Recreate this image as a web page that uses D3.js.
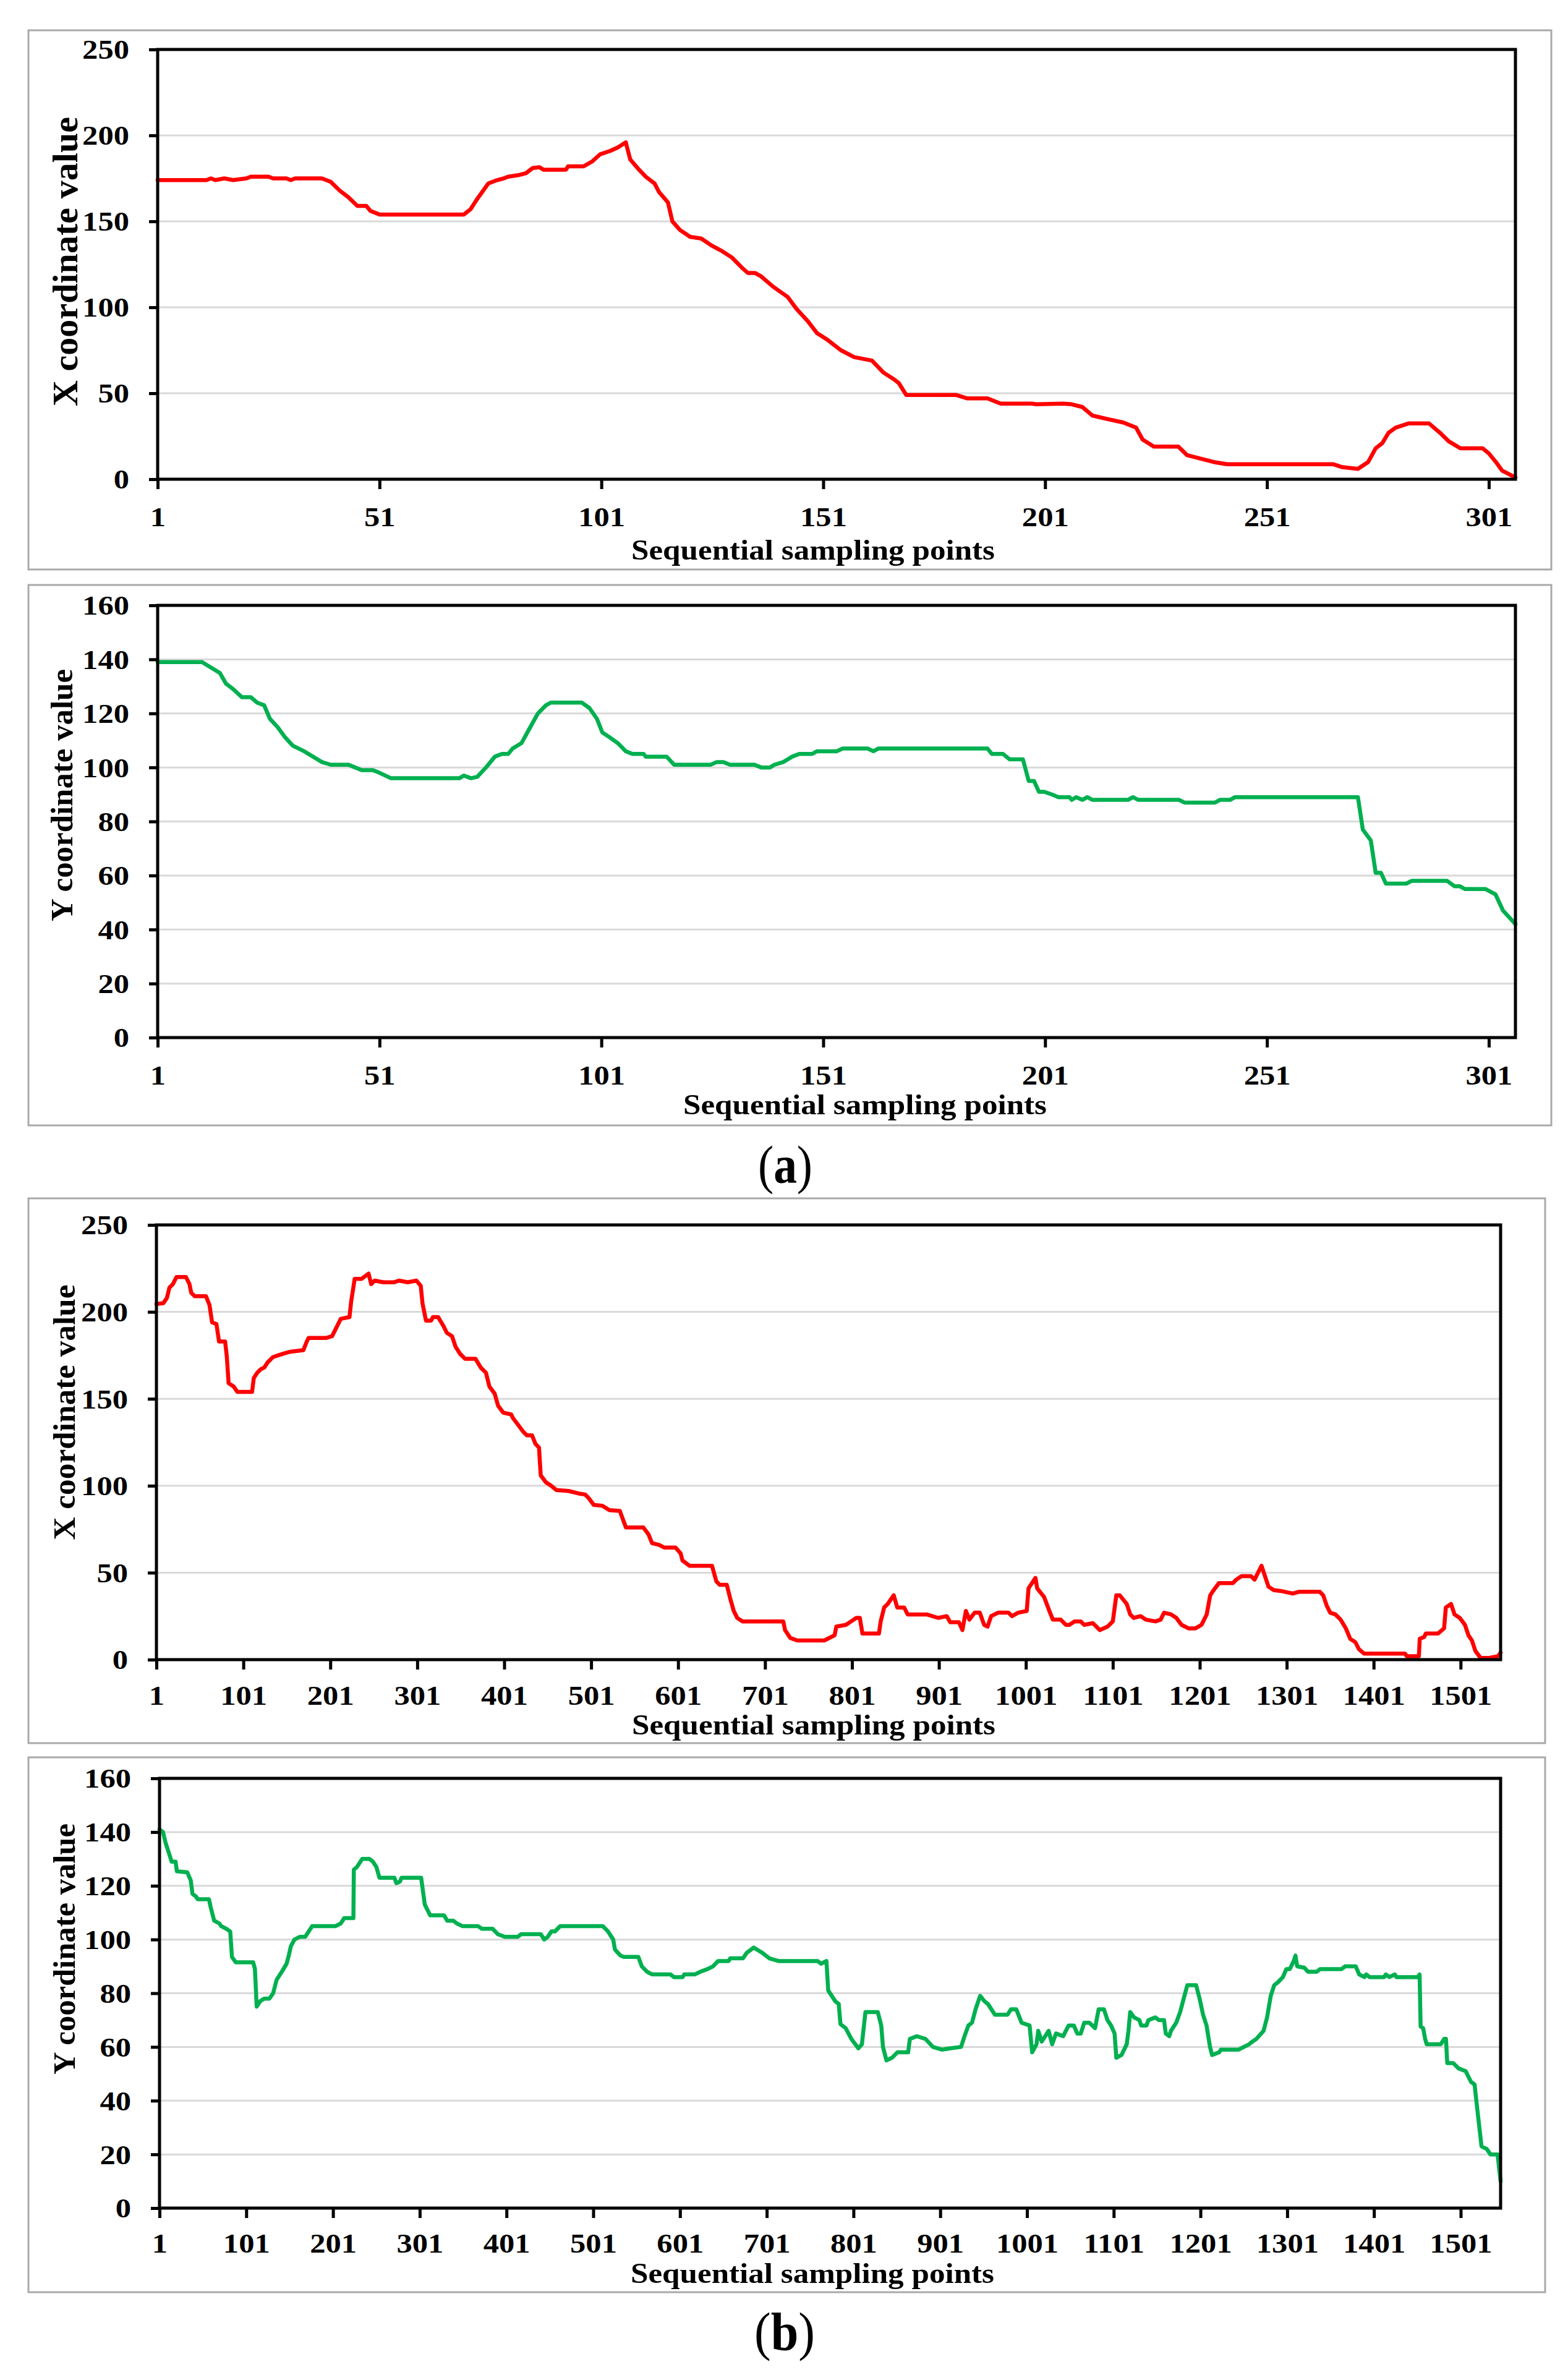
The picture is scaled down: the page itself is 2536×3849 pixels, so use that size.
<!DOCTYPE html>
<html>
<head>
<meta charset="utf-8">
<script src="https://cdn.jsdelivr.net/npm/d3@7/dist/d3.min.js"></script>
<style>
  html, body { margin: 0; padding: 0; background: #ffffff; }
  svg { display: block; }
</style>
</head>
<body>
<svg id="chart" width="2536" height="3849"></svg>
<script>
// ---------------- DATA ----------------
// Tick labels
const xTicksA = [1, 51, 101, 151, 201, 251, 301];
const xTicksB = [1, 101, 201, 301, 401, 501, 601, 701, 801, 901, 1001, 1101, 1201, 1301, 1401, 1501];
const yTicksX = [0, 50, 100, 150, 200, 250];
const yTicksY = [0, 20, 40, 60, 80, 100, 120, 140, 160];
const xDomainA = [1, 307];
const xDomainB = [1, 1547];

const xTitle = "Sequential sampling points";
const yTitleX = "X coordinate value";
const yTitleY = "Y coordinate value";
const labelA = "a";
const labelB = "b";

// (a) X coordinate series: [sampling point, value]
const seriesAX = [
  [1,174],[12,174],[13,175],[14,174],[16,175],[18,174],[21,175],[22,176],[26,176],[27,175],[30,175],[31,174],[32,175],
  [38,175],[40,173],[42,168],[44,164],[46,159],[48,159],[49,156],[51,154],[70,154],[71.5,157],[73,163],[75.5,172],
  [77.5,174],[79,175],[80,176],[82.5,177],[84,178],[85.5,181],[87,181.5],[88,180],[93,180],[93.5,182],[97,182],
  [99,185],[100.7,189],[103,191],[104.7,193],[106.5,196],[107.5,186],[109.5,180],[111,176],[113,172],[114,167],
  [116,161],[117,150],[118.7,145],[121,141],[123.5,140],[125.8,136],[128,133],[130.4,129],[132.7,123],[134,120],
  [135.6,120],[137,118],[139.7,112],[143,106],[145,99],[147.5,92],[149.6,85],[152,81],[155,75],[158,71],[160,70],
  [162,69],[164.6,62],[167,58],[168,56],[169.7,49],[181,49],[183.5,47],[188,47],[191,44],[198,44],[199,43.6],
  [205,44],[207,43.6],[209.4,42],[211.7,37],[215,35],[218.6,33],[221.5,30],[223,23],[225.5,19],[231,19],[233,14],
  [236,12],[239,10],[242,8.7],[266,8.7],[268,7],[271.5,6],[273.8,10],[275.5,18],[277,21],[278.4,27],[280,30],
  [283,32.5],[287.5,32.5],[290,27],[292,22],[294.6,18],[299.6,18],[301,15],[302.6,10],[304,5],[307,1]
];

// (a) Y coordinate series
const seriesAY = [
  [1,139],[11,139],[13,137],[15,135],[16.4,131],[18,129],[20,126],[22,126],[23.4,124],[25,123],[26.3,118],[28,115],
  [29.8,111],[31.5,108],[34,106],[36,104],[38,102],[40,101],[44,101],[45.5,100],[47,99],[49.5,99],[51,98],[53.6,96],
  [69,96],[70,97],[71.6,96],[73,96.5],[75,100],[77,104],[78.6,105],[80,105],[81,107],[83,109],[85,115],[86.7,120],
  [88.5,123],[89.6,124],[96.6,124],[98.3,122],[100,118],[101.2,113],[103,111],[104.7,109],[106.5,106],[108,105],
  [110.5,105],[111,104],[115.7,104],[117.4,101],[125.6,101],[127,102],[128.5,102],[130,101],[135.5,101],[137,100],
  [139,100],[140,101],[142,102],[144,104],[145.6,105],[148.5,105],[149.6,106],[154,106],[155.4,107],[161,107],
  [162.3,106],[163.4,107],[188,107],[189,105],[191.5,105],[193,103],[196,103],[197.3,95],[198.5,95],[199.6,91],
  [200.8,91],[202.5,90],[204,89],[206.5,89],[207,88],[208,89],[209.4,88],[210.5,89],[211.7,88],[219.7,88],
  [220.8,89],[222,88],[231.2,88],[232.4,87],[239.3,87],[240.4,88],[242.7,88],[243.8,89],[271.5,89],[272.6,77],
  [274.4,73],[275.5,61],[276.7,61],[277.8,57],[282.4,57],[283.6,58],[291.6,58],[293.3,56],[294.5,56],[295.6,55],
  [300.2,55],[302.5,53],[304.2,47],[307,42]
];

// (b) X coordinate series
const seriesBX = [
  [1,204.5],[9,205],[13,208],[16,214],[20,216],[24,220],[35,220],[39,216],[41,211],[45,209],[58,209],[62,204],
  [65,194],[70,193],[73,183],[80,183],[82,174],[84,159],[90,157],[94,154],[111,154],[113,162],[117,165],[121,167],
  [125,168],[129,171],[135,174],[141,175],[147,176],[154,177],[170,178],[174,183],[176,185],[196,185],[203,186],
  [207,190],[213,196],[223,197],[225,206],[229,219],[237,219],[245,222],[248,216],[252,218],[262,217],[274,217],
  [280,218],[290,217],[300,218],[305,215],[307,205],[311,195],[317,195],[319,197],[325,197],[331,192],[335,188],
  [341,186],[345,180],[350,176],[356,173],[368,173],[374,168],[380,165],[384,157],[390,153],[394,146],[400,142],
  [409,141],[411,139],[417,135],[423,131],[427,129],[433,129],[437,124],[441,122],[443,106],[449,102],[455,100],
  [461,97.5],[475,97],[487,95.5],[494,95],[498,93],[504,89],[514,88.5],[522,86],[534,85.5],[541,76],[561,76],
  [567,72],[571,67],[579,66],[585,64.5],[598,64.5],[604,61],[606,57],[614,54],[640,54],[645,45],[649,43],[657,43],
  [661,35],[665,28],[669,24],[675,22],[722,22],[724,17],[730,12.5],[738,11],[769,11],[773,12],[781,14],[783,19],
  [794,20],[800,22],[806,24],[810,24],[813,15],[832,15],[834,22],[838,30],[842,32],[849,37],[853,30],[861,30],
  [865,26],[875,26],[887,26],[900,24],[910,25],[914,21.5],[924,21.5],[928,17],[932,28],[936,23],[942,27],[948,27],
  [953,20],[957,19],[961,25],[969,27],[981,27],[985,25],[992,27],[1002,28],[1004,41],[1008,44],[1012,47],[1014,41],
  [1022,36],[1028,28],[1032,23],[1041,23],[1047,20],[1051,20],[1057,22],[1064,22],[1068,20],[1078,21],[1086,17],
  [1095,19],[1101,22],[1105,37],[1109,37],[1117,32],[1121,26],[1125,24],[1133,25],[1139,23],[1150,22],[1156,23],
  [1160,27],[1168,26],[1174,24],[1180,20],[1188,18],[1196,18],[1203,20],[1209,26],[1213,37],[1217,40],[1223,44],
  [1239,44],[1243,46],[1249,48],[1260,48],[1264,46],[1268,50],[1272,54],[1276,48],[1280,42],[1286,40],[1294,39.5],
  [1308,38],[1315,39],[1339,39],[1343,37],[1347,31],[1351,27],[1357,26],[1363,23],[1369,18],[1374,12],[1380,10],
  [1384,6],[1390,3.5],[1437,3.5],[1439,2],[1453,2],[1454,12],[1459,13],[1461,15],[1475,15],[1482,18],[1484,30],
  [1490,32],[1494,26],[1500,24],[1506,20],[1510,14],[1514,11],[1518,5],[1524,1],[1534,1],[1544,2],[1547,4]
];

// (b) Y coordinate series
const seriesBY = [
  [1,141],[5,140],[8,136],[12,132],[15,129],[19.5,129],[21,125.4],[33,125],[37,122],[39,117],[43,116],[45,115],
  [58,115],[60,112],[64,107],[70,106],[72,105],[78,104],[82.5,103],[84.5,93.5],[89,91.5],[109,91.5],[111,89],
  [113,75],[117,77],[121.6,78],[127.7,78],[132,80],[136,85],[142,88],[147.5,91],[150,94],[152.4,97.5],[156.6,100],
  [162.7,101],[169,101],[173,103],[177,105],[204,105],[210,106],[214,108],[224.5,108],[225,126],[228.6,127],
  [230.6,128],[234.7,130],[243,130],[247,129],[251,127],[254.5,123],[271.8,123],[274,121],[278,121.5],[280,123],
  [302.6,123],[306.8,113],[313,109],[329,109],[332.7,107],[339.7,107],[343.8,106],[350,105],[368,105],[372.6,104],
  [385,104],[391,102],[399,101],[413.8,101],[418,102],[440.5,102],[444.5,100],[448.6,101],[452.7,103],[456.8,103],
  [463,105],[512,105],[518,103],[524,100],[526,96.3],[532.5,94],[536.6,93.5],[553,93.5],[557,90],[563,88],[569,87],
  [590,87],[594,86],[604,86],[606,87],[618,87],[624.5,88],[632.8,89],[639,90],[645,92],[657,92],[659,93],
  [673.7,93],[677.8,95],[686,97],[696,95],[704,93],[714.6,92],[759.6,92],[763.6,91],[769.8,92],[771.9,81],
  [776,79],[780,77],[784,76],[786,68.5],[792,67],[798.5,63],[806.6,59.5],[810.7,61],[814.8,73],[829,73],[833,68],
  [835,60],[839,55],[845.5,56],[851.7,58],[864,58],[866,63],[874,64],[884,63],[892.6,60],[902.8,59],[913,59.5],
  [925,60],[929,64],[933.5,68],[937.6,69],[941.7,74],[947,79],[952,77],[956,76],[964,72],[978.5,72],[982.6,74],
  [988.7,74],[994.8,69],[1004,68],[1007,58],[1012,61],[1014,66],[1018,62],[1022,64],[1026,66],[1030,61],
  [1034.5,65],[1042.7,64],[1049,68],[1055,68],[1059,65],[1063,65],[1067,69],[1073,69],[1079.5,67],[1083.6,74],
  [1089.7,74],[1093.8,70],[1097.9,68],[1102,65],[1104,56],[1110,57],[1116,61],[1118,66],[1120,73],[1124.5,71],
  [1130.6,70],[1132.6,68],[1138.8,68],[1141,70],[1149,71],[1153,70],[1159,70],[1161,65],[1165,64],[1167,66],
  [1173,69],[1177.6,73],[1181.7,78],[1185.8,83],[1196,83],[1200,78],[1204,72],[1208,68],[1212,60],[1214.4,57],
  [1222.6,58],[1224.6,59],[1245,59],[1251,60],[1257,61],[1261,62],[1265.5,63],[1273.7,66],[1277.8,71],[1282,79],
  [1286,83],[1290,84],[1296,86],[1300,89],[1304,89],[1308.5,92],[1310.5,94],[1312.5,90],[1320.7,89.5],[1325,88],
  [1335,88],[1339,89],[1363.6,89],[1367.7,90],[1380,90],[1384,87],[1390,86],[1392,87],[1396,86],[1412.7,86],
  [1414.7,87],[1418.8,86],[1425,87],[1427,86],[1451.5,86],[1453.6,87],[1454.8,67.6],[1457.7,67],[1460,63],
  [1461.8,61],[1478,61],[1482,63],[1484,63],[1485.5,54],[1492.4,54],[1498.6,52],[1506.7,51],[1512.9,47],[1517,46],
  [1519,40],[1525,23],[1531,22],[1535.3,20],[1543.5,20],[1547,10]
];

// ---------------- LAYOUT ----------------
const panels = [
  { box: [46, 49, 2509, 921], plot: [255, 80, 2451, 775], xDomain: xDomainA, xTicks: xTicksA,
    yDomain: [0, 250], yTicks: yTicksX, data: seriesAX, color: "#ff0000", yTitle: yTitleX,
    yTitlePos: [105, 423], yTitleSize: 58, yTitleLen: 468, xTitlePos: [1315, 905], tickOff: 61 },
  { box: [46, 946, 2509, 1820], plot: [255, 979, 2451, 1678], xDomain: xDomainA, xTicks: xTicksA,
    yDomain: [0, 160], yTicks: yTicksY, data: seriesAY, color: "#00b050", yTitle: yTitleY,
    yTitlePos: [100, 1286], yTitleSize: 51, yTitleLen: 408, xTitlePos: [1399, 1802], tickOff: 61 },
  { box: [46, 1938, 2499, 2819], plot: [253, 1981, 2427, 2684], xDomain: xDomainB, xTicks: xTicksB,
    yDomain: [0, 250], yTicks: yTicksX, data: seriesBX, color: "#ff0000", yTitle: yTitleX,
    yTitlePos: [104, 2284], yTitleSize: 51, yTitleLen: 413, xTitlePos: [1316, 2805], tickOff: 58 },
  { box: [46, 2842, 2499, 3707], plot: [258, 2876, 2427, 3571], xDomain: xDomainB, xTicks: xTicksB,
    yDomain: [0, 160], yTicks: yTicksY, data: seriesBY, color: "#00b050", yTitle: yTitleY,
    yTitlePos: [104, 3152], yTitleSize: 51, yTitleLen: 406, xTitlePos: [1314, 3692], tickOff: 57 }
];

const FONT = "'Liberation Serif', 'Times New Roman', serif";
const svg = d3.select("#chart");

function stretch(sel, factor) {
  sel.each(function () {
    const len = this.getComputedTextLength();
    d3.select(this).attr("textLength", len * factor).attr("lengthAdjust", "spacingAndGlyphs");
  });
}

panels.forEach(p => {
  const g = svg.append("g");
  // outer box
  g.append("rect")
    .attr("x", p.box[0]).attr("y", p.box[1])
    .attr("width", p.box[2] - p.box[0]).attr("height", p.box[3] - p.box[1])
    .attr("fill", "#ffffff").attr("stroke", "#a9a9a9").attr("stroke-width", 3);

  const [l, t, r, b] = p.plot;
  const x = d3.scaleLinear().domain(p.xDomain).range([l, r]);
  const y = d3.scaleLinear().domain(p.yDomain).range([b, t]);

  // gridlines
  g.append("g").selectAll("line").data(p.yTicks.filter(v => v > p.yDomain[0] && v < p.yDomain[1]))
    .join("line")
    .attr("x1", l).attr("x2", r).attr("y1", d => y(d)).attr("y2", d => y(d))
    .attr("stroke", "#d9d9d9").attr("stroke-width", 3);

  // data line
  const line = d3.line().x(d => x(d[0])).y(d => y(d[1])).curve(d3.curveLinear);
  g.append("path").datum(p.data)
    .attr("d", line).attr("fill", "none").attr("stroke", p.color)
    .attr("stroke-width", 6.5).attr("stroke-linejoin", "round").attr("stroke-linecap", "round");

  // frame
  g.append("rect").attr("x", l).attr("y", t).attr("width", r - l).attr("height", b - t)
    .attr("fill", "none").attr("stroke", "#000000").attr("stroke-width", 5);

  // x axis
  const xAxis = g.append("g").attr("transform", `translate(0,${b})`)
    .call(d3.axisBottom(x).tickValues(p.xTicks).tickSize(16).tickSizeOuter(0).tickFormat(d3.format("d")));
  xAxis.select(".domain").remove();
  xAxis.selectAll(".tick line").attr("stroke", "#000").attr("stroke-width", 5);
  xAxis.selectAll(".tick text")
    .attr("y", p.tickOff).attr("dy", "0.34em")
    .attr("font-family", FONT).attr("font-weight", "bold").attr("font-size", 44).attr("fill", "#000");
  stretch(xAxis.selectAll(".tick text"), 1.15);

  // y axis
  const yAxis = g.append("g").attr("transform", `translate(${l},0)`)
    .call(d3.axisLeft(y).tickValues(p.yTicks).tickSize(14).tickSizeOuter(0));
  yAxis.select(".domain").remove();
  yAxis.selectAll(".tick line").attr("stroke", "#000").attr("stroke-width", 5);
  yAxis.selectAll(".tick text")
    .attr("x", -46).attr("dy", "0.34em")
    .attr("font-family", FONT).attr("font-weight", "bold").attr("font-size", 44).attr("fill", "#000");
  stretch(yAxis.selectAll(".tick text"), 1.15);

  // x title
  g.append("text")
    .attr("x", p.xTitlePos[0]).attr("y", p.xTitlePos[1])
    .attr("text-anchor", "middle")
    .attr("font-family", FONT).attr("font-weight", "bold").attr("font-size", 46)
    .attr("textLength", 588).attr("lengthAdjust", "spacingAndGlyphs")
    .text(xTitle);

  // y title
  g.append("text")
    .attr("transform", `translate(${p.yTitlePos[0]},${p.yTitlePos[1]}) rotate(-90)`)
    .attr("text-anchor", "middle").attr("dy", "0.34em")
    .attr("font-family", FONT).attr("font-weight", "bold").attr("font-size", p.yTitleSize)
    .attr("textLength", p.yTitleLen).attr("lengthAdjust", "spacingAndGlyphs")
    .text(p.yTitle);
});

// sub-figure labels
function subLabel(letter, cx, baseline, len) {
  const t = svg.append("text")
    .attr("x", cx).attr("y", baseline).attr("text-anchor", "middle")
    .attr("font-family", FONT).attr("font-size", 86)
    .attr("textLength", len).attr("lengthAdjust", "spacingAndGlyphs");
  t.append("tspan").text("(");
  t.append("tspan").attr("font-weight", "bold").text(letter);
  t.append("tspan").text(")");
}
subLabel(labelA, 1270, 1913, 88);
subLabel(labelB, 1269, 3800, 98);
</script>
</body>
</html>
